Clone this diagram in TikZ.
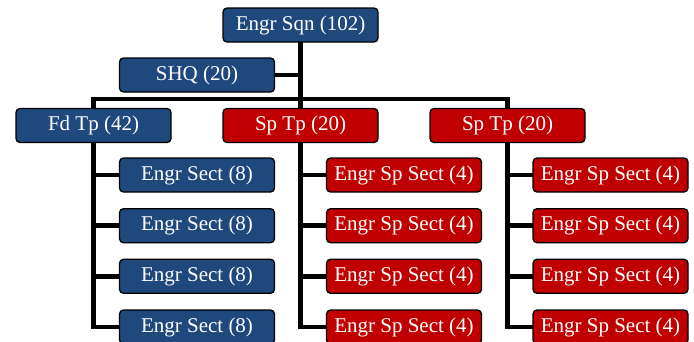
\documentclass[tikz,border=0pt]{standalone}
\usepackage{fontspec}
\setmainfont{Liberation Serif}
\usetikzlibrary{backgrounds}
\definecolor{bbox}{HTML}{1F497D}
\definecolor{rbox}{HTML}{C00000}
\begin{document}
\begin{tikzpicture}[x=1pt,y=-1pt,
  unit/.style={draw=black, line width=1.3pt, rounded corners=4pt, minimum width=155pt, minimum height=34pt, inner sep=0pt, text=white, font=\fontsize{21}{24}\selectfont},
  blueunit/.style={unit, fill=bbox},
  redunit/.style={unit, fill=rbox},
  link/.style={line width=4.5pt, line cap=rect, line join=miter}]
\useasboundingbox (0,0) rectangle (694,341);
\node[blueunit] (top) at (300.5,25) {Engr Sqn (102)};
\node[blueunit] (shq) at (197,75) {SHQ (20)};
\node[blueunit] (fd) at (93.5,125.5) {Fd Tp (42)};
\node[redunit] (sp1) at (300.5,125.5) {Sp Tp (20)};
\node[redunit] (sp2) at (507.5,125.5) {Sp Tp (20)};
\coordinate (bar) at (300.5,99);
\foreach \i/\y in {1/175,2/225.7,3/276.3,4/327}{
  \node[blueunit] (f\i) at (197,\y) {Engr Sect (8)};
  \node[redunit] (a\i) at (404,\y) {Engr Sp Sect (4)};
  \node[redunit] (b\i) at (610.5,\y) {Engr Sp Sect (4)};
}
\begin{scope}[on background layer]
\draw[link] (top.south) -- (bar);
\draw[link] (fd.north) |- (bar) -| (sp2.north);
\draw[link] (bar) -- (sp1.north);
\draw[link] (shq.east) -- (shq.east -| top.south);
\draw[link] (fd.south) |- (f4.west);
\draw[link] (sp1.south) |- (a4.west);
\draw[link] (sp2.south) |- (b4.west);
\foreach \i in {1,2,3}{
  \draw[link] (f\i.west -| fd.south) -- (f\i.west);
  \draw[link] (a\i.west -| sp1.south) -- (a\i.west);
  \draw[link] (b\i.west -| sp2.south) -- (b\i.west);
}
\end{scope}
\end{tikzpicture}
\end{document}
